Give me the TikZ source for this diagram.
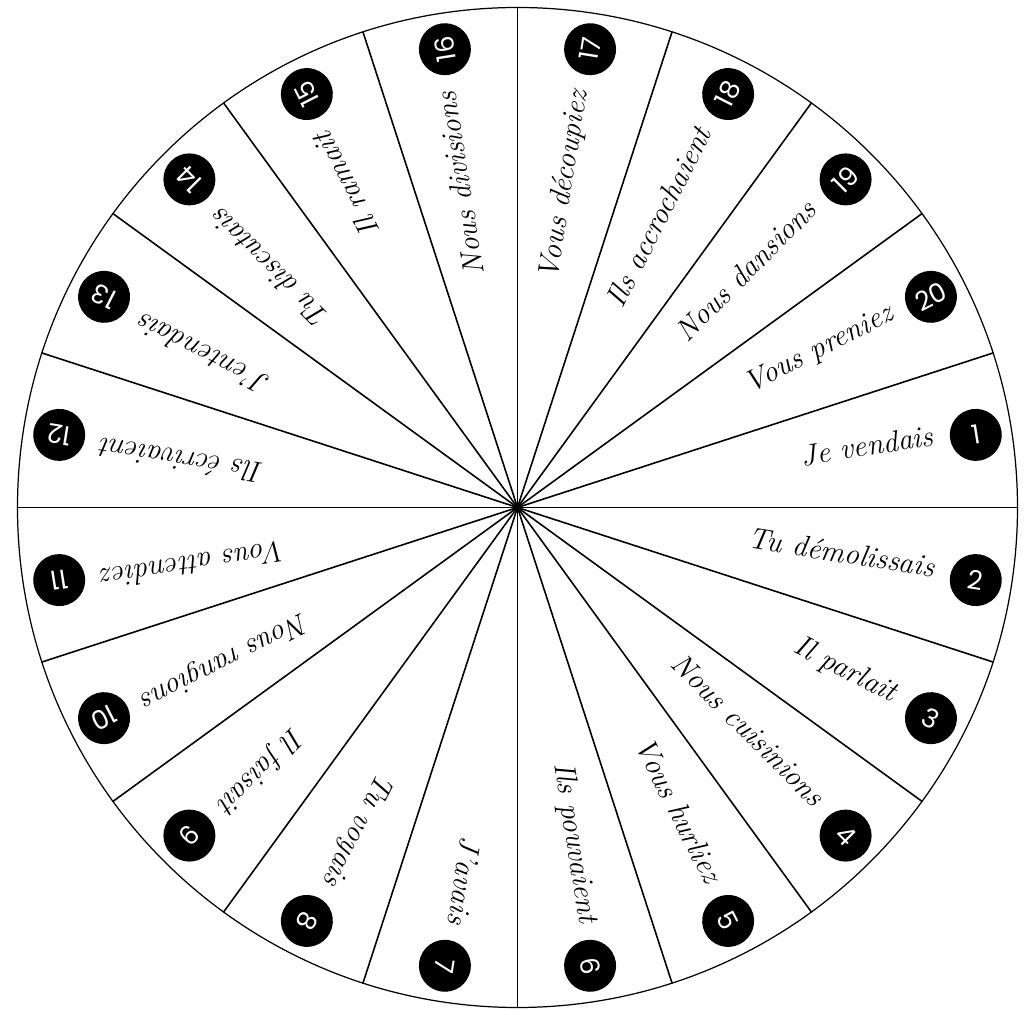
\documentclass[tikz,border=0pt]{standalone}
\usepackage{fontspec}
\newfontfamily\numfont{Poppins}
\begin{document}
\begin{tikzpicture}[x=0.02cm,y=0.02cm,
  spoke/.style={line width=0.9pt,line cap=round},
  rim/.style={line width=0.7pt},
  numdisc/.style={circle,fill=black,minimum size=1.04cm,inner sep=0pt,text=white,font=\numfont\fontsize{15}{15}\selectfont},
  verb/.style={anchor=mid east,inner sep=0pt,font=\fontsize{17}{20}\selectfont\itshape}]
\useasboundingbox (-517.5,-502.5) rectangle (514.5,507.5);
\coordinate (c) at (0,0);
\draw[rim] (c) circle[radius=500];
\foreach \k in {0,...,19}{
  \coordinate (r\k) at (\k*18:500);
  \draw[spoke] (c) -- (r\k);
}
\foreach \n/\t in {1/Je vendais,2/Tu démolissais,3/Il parlait,4/Nous cuisinions,5/Vous hurliez,6/Ils pouvaient,7/J’avais,8/Tu voyais,9/Il faisait,10/Nous rangions,11/Vous attendiez,12/Ils écrivaient,13/J’entendais,14/Tu discutais,15/Il ramait,16/Nous divisions,17/Vous découpiez,18/Ils accrochaient,19/Nous dansions,20/Vous preniez}{
  \pgfmathsetmacro\a{9-18*(\n-1)}
  \node[verb,rotate=\a] (t\n) at (\a:422) {\t};
  \node[numdisc,rotate=\a] (n\n) at (\a:464) {\n};
}
\end{tikzpicture}
\end{document}
